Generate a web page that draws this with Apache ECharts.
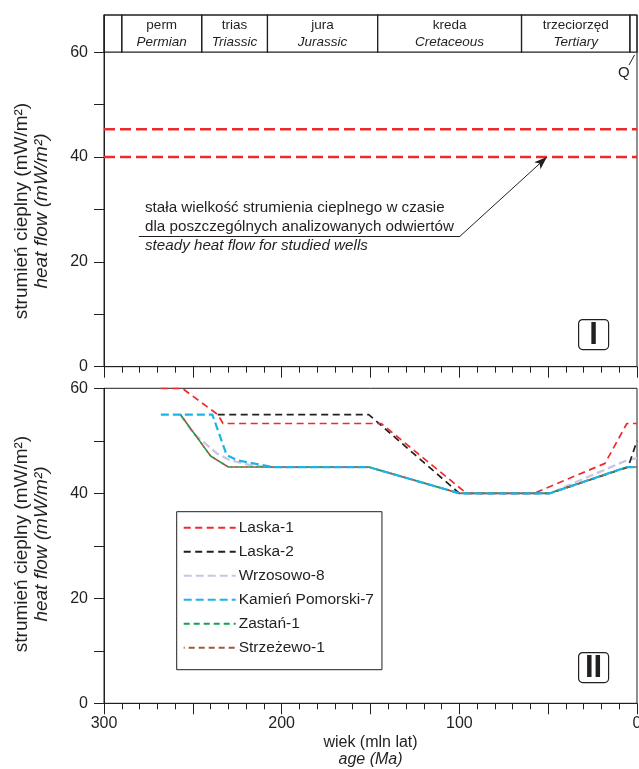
<!DOCTYPE html>
<html>
<head>
<meta charset="utf-8">
<script src="https://cdn.jsdelivr.net/npm/echarts@6/dist/echarts.min.js"></script>
<style>
html,body{margin:0;padding:0;background:#fff;}
#c{width:639px;height:769px;}
</style>
</head>
<body>
<div id="c"></div>
<script>
// ---- Data ----
const eraStart = [300, 290, 245, 208, 146, 65, 4];
const eraEnd   = [290, 245, 208, 146, 65, 4, 0];
const eraPl    = ['', 'perm', 'trias', 'jura', 'kreda', 'trzeciorzęd', ''];
const eraEn    = ['', 'Permian', 'Triassic', 'Jurassic', 'Cretaceous', 'Tertiary', ''];

const steadyFlows = [45.3, 40];

const wellNames = ['Laska-1', 'Laska-2', 'Wrzosowo-8', 'Kamień Pomorski-7', 'Zastań-1', 'Strzeżewo-1'];
const laska1Age  = [268, 256, 236, 233, 144, 96, 58, 18, 5.7, 0];
const laska1Flow = [60, 60, 55, 53.3, 53.3, 40, 40, 45.7, 53.3, 53.3];
const laska2Age  = [236, 151, 100, 49, 5, 0];
const laska2Flow = [55, 55, 40, 40, 45, 50];
const wrzosAge   = [257, 249.7, 236.5, 229, 218, 208, 151, 100, 49, 5.7, 0];
const wrzosFlow  = [55, 51.4, 47.6, 46.3, 45.4, 45, 45, 40, 40, 46.3, 46.7];
const kamienAge  = [268, 239, 231, 225, 205, 151, 100, 49, 5.7, 0];
const kamienFlow = [55, 55, 47.3, 46.3, 45, 45, 40, 40, 45, 45];
const zastanAge  = [257, 240, 230, 151, 100, 49, 5.7, 0];
const zastanFlow = [55, 47.1, 45, 45, 40, 40, 45, 45];
const strzAge    = [257, 240, 230, 151, 100, 49, 5.7, 0];
const strzFlow   = [55, 47.1, 45, 45, 40, 40, 45, 45];

const yTicks = [0, 10, 20, 30, 40, 50, 60];
const yLabelStep = 20;
const xLabelStep = 100;

// ---- Chart ----
const FONT = "'Liberation Sans', Arial, sans-serif";
const INK = '#231f20';
const zip = (a, b) => a.map((v, i) => [v, b[i]]);
const chart = echarts.init(document.getElementById('c'), null, {renderer: 'canvas'});

function yAxisCfg(gi, max) {
  return {
    type: 'value', gridIndex: gi, min: 0, max: max, interval: 10, position: 'left',
    axisLine: {show: true, onZero: false, lineStyle: {color: INK, width: 1}},
    axisTick: {show: true, length: 10, customValues: yTicks, lineStyle: {color: INK}},
    axisLabel: {margin: 16, color: INK, fontSize: 16, fontFamily: FONT, showMaxLabel: max === 60,
      formatter: v => (Math.abs(v % yLabelStep) < 1e-6 && v <= 60) ? String(v) : ''},
    splitLine: {show: false}
  };
}
function xAxisCfg(gi, labels) {
  return {
    type: 'value', gridIndex: gi, min: 0, max: 300, interval: 50, inverse: true, position: 'bottom',
    axisLine: {show: true, onZero: false, lineStyle: {color: INK, width: 1}},
    axisTick: {show: true, length: 11, lineStyle: {color: INK}},
    minorTick: {show: true, splitNumber: 5, length: 6, lineStyle: {color: INK}},
    axisLabel: {show: labels, margin: 12, color: INK, fontSize: 16, fontFamily: FONT,
      formatter: v => (v % xLabelStep === 0) ? String(v) : ''},
    splitLine: {show: false}
  };
}

const eraAreas = eraStart.map((s, i) => [
  {name: eraPl[i], xAxis: s, yAxis: 60,
   label: {formatter: eraPl[i] ? '{a|' + eraPl[i] + '}\n{b|' + eraEn[i] + '}' : ''}},
  {xAxis: eraEnd[i], yAxis: 67.1}
]);

function wellSeries(name, age, flow, color, width, dash, offset) {
  return {
    name: name, type: 'line', xAxisIndex: 1, yAxisIndex: 1,
    data: zip(age, flow), symbol: 'none', showSymbol: false, silent: true,
    lineStyle: {color: color, width: width, type: dash, dashOffset: offset || 0},
    itemStyle: {color: color}
  };
}

const series = [
  {
    name: 'steady-45', type: 'line', xAxisIndex: 0, yAxisIndex: 0, symbol: 'none', silent: true,
    data: [[300, steadyFlows[0]], [0, steadyFlows[0]]],
    lineStyle: {color: '#ee2a2e', width: 2.5, type: [11, 5]},
    markArea: {
      silent: true,
      itemStyle: {color: 'rgba(0,0,0,0)', borderColor: INK, borderWidth: 1.2},
      label: {show: true, position: 'inside', color: INK, fontFamily: FONT,
        rich: {a: {fontSize: 13.5, lineHeight: 17, fontFamily: FONT, color: INK},
               b: {fontSize: 13.5, lineHeight: 17, fontStyle: 'italic', fontFamily: FONT, color: INK}}},
      data: eraAreas
    }
  },
  {
    name: 'steady-40', type: 'line', xAxisIndex: 0, yAxisIndex: 0, symbol: 'none', silent: true,
    data: [[300, steadyFlows[1]], [0, steadyFlows[1]]],
    lineStyle: {color: '#ee2a2e', width: 2.5, type: [11, 5]},
    markLine: {
      silent: true, symbol: ['none', 'none'],
      lineStyle: {color: INK, width: 1, type: 'solid'},
      label: {show: false},
      data: [
        [{coord: [280.4, 24.9]}, {coord: [99.6, 24.9]}],
        [{coord: [99.6, 24.9]}, {coord: [50.7, 40], symbol: 'arrow', symbolSize: [7, 13]}]
      ]
    }
  },
  wellSeries(wellNames[2], wrzosAge, wrzosFlow, '#c9c4e2', 2.2, [8, 4]),
  wellSeries(wellNames[1], laska2Age, laska2Flow, INK, 1.7, [7, 4.5]),
  wellSeries(wellNames[0], laska1Age, laska1Flow, '#ee2a2e', 1.7, [7, 4.5]),
  wellSeries(wellNames[4], zastanAge, zastanFlow, '#16a04a', 1.6, [6, 4]),
  wellSeries(wellNames[5], strzAge, strzFlow, '#9b5a3c', 1.6, [6, 4], 5),
  wellSeries(wellNames[3], kamienAge, kamienFlow, '#1cb3e8', 2.2, [8, 4])
];

function panelLabel(txt, x, y) {
  return {
    type: 'group', left: x, top: y, silent: true,
    children: [
      {type: 'rect', shape: {x: 0, y: 0, width: 30, height: 30, r: 4},
       style: {fill: '#fff', stroke: INK, lineWidth: 1.2}},
      {type: 'text', x: 15, y: 16,
       style: {text: txt, font: 'bold 31px ' + FONT, fill: INK, align: 'center', verticalAlign: 'middle'}}
    ]
  };
}

function yTitle(cy) {
  return {
    type: 'text', x: 32, y: cy, rotation: Math.PI / 2, silent: true,
    style: {
      text: '{a|strumień cieplny (mW/m²)}\n{b|heat flow (mW/m²)}',
      align: 'center', verticalAlign: 'middle',
      rich: {a: {fontSize: 19, lineHeight: 20, fontFamily: FONT, fill: INK, align: 'center'},
             b: {fontSize: 19, lineHeight: 20, fontFamily: FONT, fontStyle: 'italic', fill: INK, align: 'center'}}
    }
  };
}

const gridBase = {left: 104, right: 2, show: true, borderColor: INK, borderWidth: 1,
  backgroundColor: 'rgba(0,0,0,0)', containLabel: false, outerBoundsMode: 'none'};

const option = {
  animation: false,
  backgroundColor: '#fff',
  grid: [
    Object.assign({}, gridBase, {top: 15, height: 351.7}),
    Object.assign({}, gridBase, {top: 388.3, height: 315})
  ],
  xAxis: [xAxisCfg(0, false), xAxisCfg(1, true)],
  yAxis: [yAxisCfg(0, 67.1), yAxisCfg(1, 60)],
  legend: {
    data: wellNames, orient: 'vertical', left: 176.7, top: 511.7,
    itemWidth: 52, itemHeight: 14, itemGap: 8,
    itemStyle: {opacity: 0},
    padding: [8, 8, 14, 6], borderColor: INK, borderWidth: 1, borderRadius: 0,
    backgroundColor: '#fff', selectedMode: false,
    textStyle: {fontSize: 15.5, fontFamily: FONT, color: INK, padding: [0, 0, 0, -2]}
  },
  graphic: [
    yTitle(211),
    yTitle(544),
    {type: 'text', left: 145, top: 200, silent: true,
     style: {text: 'stała wielkość strumienia cieplnego w czasie', font: '15.2px ' + FONT, fill: INK}},
    {type: 'text', left: 145, top: 219, silent: true,
     style: {text: 'dla poszczególnych analizowanych odwiertów', font: '15.2px ' + FONT, fill: INK}},
    {type: 'text', left: 145, top: 238, silent: true,
     style: {text: 'steady heat flow for studied wells', font: 'italic 15.2px ' + FONT, fill: INK}},
    {type: 'text', left: 618, top: 65, silent: true,
     style: {text: 'Q', font: '15px ' + FONT, fill: INK}},
    {type: 'line', silent: true, shape: {x1: 629, y1: 65, x2: 634.5, y2: 55},
     style: {stroke: INK, lineWidth: 1}},
    panelLabel('I', 578, 319),
    panelLabel('II', 578, 652),
    {type: 'text', x: 370.5, y: 743, silent: true,
     style: {text: 'wiek (mln lat)', font: '16px ' + FONT, fill: INK, align: 'center', verticalAlign: 'middle'}},
    {type: 'text', x: 370.5, y: 760, silent: true,
     style: {text: 'age (Ma)', font: 'italic 16px ' + FONT, fill: INK, align: 'center', verticalAlign: 'middle'}}
  ],
  series: series
};
chart.setOption(option);
</script>
</body>
</html>
